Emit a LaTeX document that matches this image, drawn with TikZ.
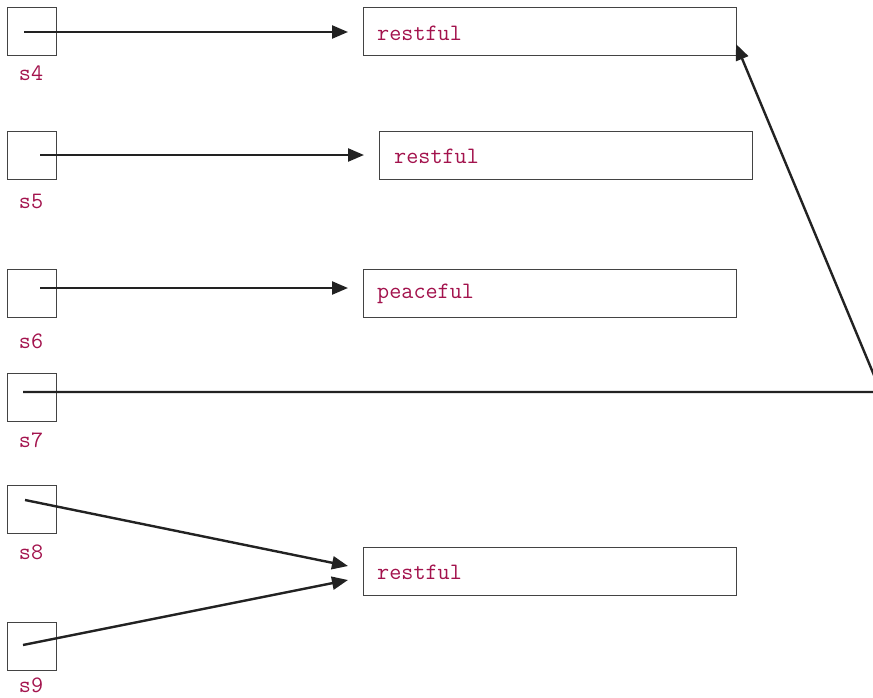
\documentclass[tikz,border=0pt]{standalone}
\usepackage{fontspec}
\usetikzlibrary{arrows.meta}
\definecolor{codered}{HTML}{A3134D}
\definecolor{ink}{HTML}{222222}
\tikzset{
  cell/.style={draw=ink!85, line width=1.2pt, minimum width=49pt, minimum height=48pt, inner sep=0pt, anchor=north west},
  strbox/.style={draw=ink!85, line width=1.2pt, minimum width=373pt, minimum height=48pt, inner sep=0pt, anchor=north west},
  strtext/.style={font=\ttfamily\fontsize{23.5}{23.5}\selectfont, text=codered, anchor=west, inner sep=0pt},
  varname/.style={font=\ttfamily\fontsize{23.5}{23.5}\selectfont, text=codered, inner sep=0pt},
  ptr/.style={draw=ink, line width=2.4pt, -{Triangle[length=16pt,width=13pt]}},
}
\begin{document}
\begin{tikzpicture}[x=1pt,y=-1pt]
\useasboundingbox (0,0) rectangle (873,697);
\clip (0,0) rectangle (873,697);

% variable cells
\node[cell] (c4) at (7,7) {};
\node[cell] (c5) at (7,131) {};
\node[cell] (c6) at (7,269) {};
\node[cell] (c7) at (7,373) {};
\node[cell] (c8) at (7,485) {};
\node[cell] (c9) at (7,622) {};

% variable names
\node[varname] (n4) at (31,73) {s4};
\node[varname] (n5) at (31,201) {s5};
\node[varname] (n6) at (31,341) {s6};
\node[varname] (n7) at (31,440) {s7};
\node[varname] (n8) at (31,552) {s8};
\node[varname] (n9) at (31,685) {s9};

% string objects
\node[strbox] (o1) at (363,7) {};
\node[strtext] (t1) at (377,33) {restful};
\node[strbox] (o2) at (379,131) {};
\node[strtext] (t2) at (394,156) {restful};
\node[strbox] (o3) at (363,269) {};
\node[strtext] (t3) at (377,294) {peaceful};
\node[strbox] (o4) at (363,547) {};
\node[strtext] (t4) at (377,572) {restful};

% pointer origins inside the cells
\coordinate (p4) at (24,32);
\coordinate (p5) at (40,155);
\coordinate (p6) at (40,288);
\coordinate (p7) at (23,392);
\coordinate (p8) at (25,500);
\coordinate (p9) at (23,645);

% pointer targets
\coordinate (q4) at (348,32);
\coordinate (q5) at (364,155);
\coordinate (q6) at (348,288);
\coordinate (q8) at (348,566);
\coordinate (q9) at (348,580);
\coordinate (bend) at (881,392);
\coordinate (q7) at (736,44);

% pointers
\draw[ptr] (p4) -- (q4);
\draw[ptr] (p5) -- (q5);
\draw[ptr] (p6) -- (q6);
\draw[ptr] (p7) -- (bend) -- (q7);
\draw[ptr] (p8) -- (q8);
\draw[ptr] (p9) -- (q9);
\end{tikzpicture}
\end{document}
